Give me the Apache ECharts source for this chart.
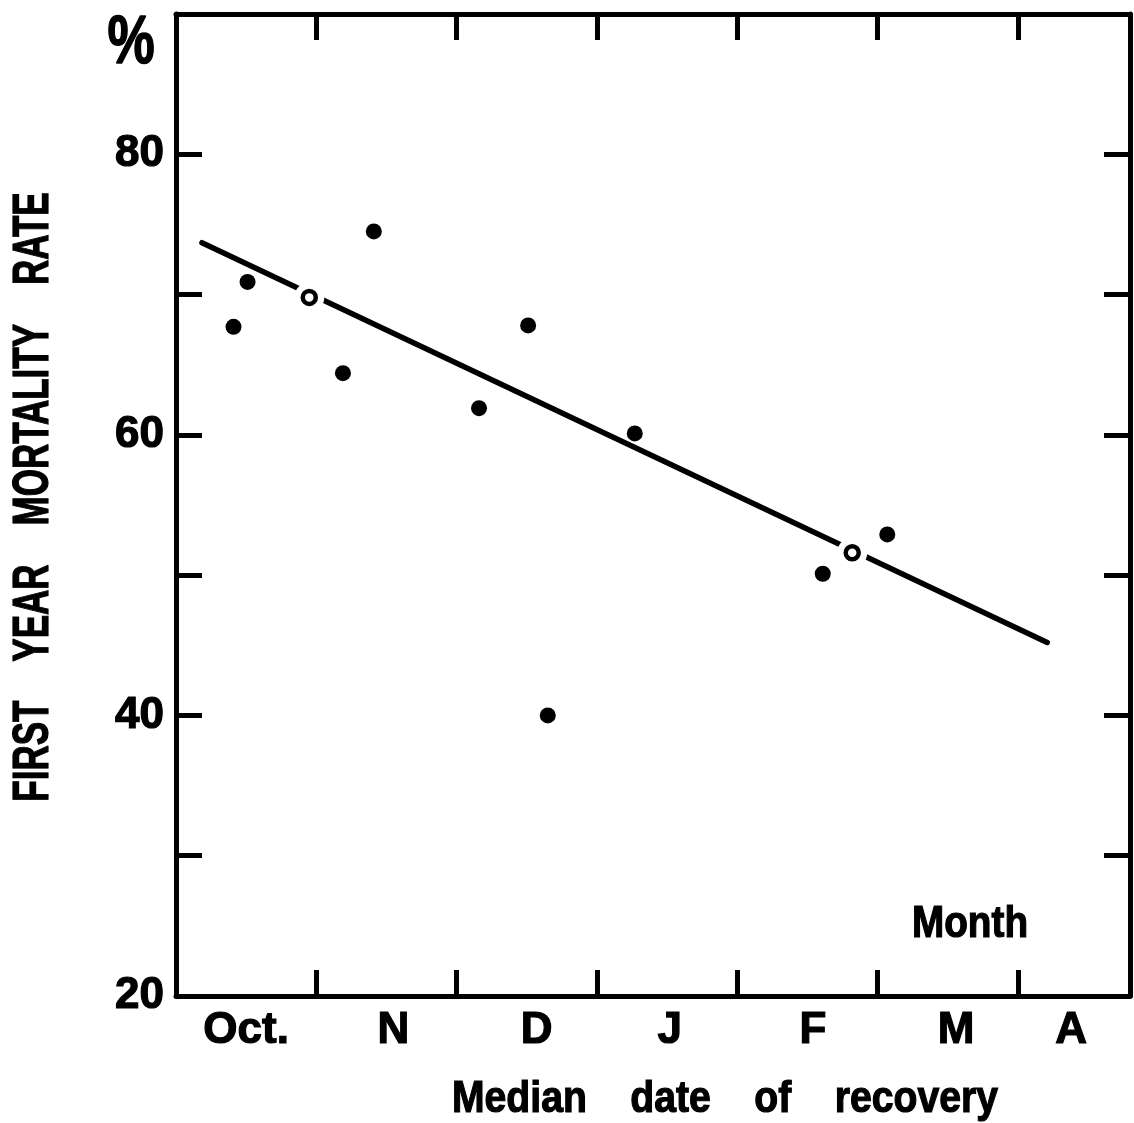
<!DOCTYPE html>
<html><head><meta charset="utf-8">
<script src="https://cdn.jsdelivr.net/npm/echarts@6/dist/echarts.min.js"></script>
<style>html,body{margin:0;padding:0;background:#fff}#c{width:1134px;height:1123px}</style>
</head><body><div id="c"></div>
<script>
// Month labels along the bottom (x in months from the start of October)
const monthLabels = ['Oct.', 'N', 'D', 'J', 'F', 'M', 'A'];
const monthLabelAt = [0.5, 1.55, 2.57, 3.52, 4.54, 5.56, 6.38];
// Y axis tick labels (%)
const yLabelValues = [20, 40, 60, 80];
// Observed points (filled)
const filledX = [0.41, 0.51, 1.19, 1.41, 2.16, 2.51, 2.65, 3.27, 4.61, 5.07];
const filledY = [67.7, 70.9, 64.4, 74.5, 61.9, 67.8, 40.0, 60.1, 50.1, 52.9];
// Open-circle points on the fitted line
const openX = [0.95, 4.82];
const openY = [69.8, 51.6];
// Fitted line end points
const fitX = [0.185, 6.21];
const fitY = [73.7, 45.2];

const FONT = 'Liberation Sans';
const zip = (a, b) => a.map((v, i) => [v, b[i]]);

const chart = echarts.init(document.getElementById('c'), null, {renderer: 'canvas'});
const axisLine = {show: true, onZero: false, lineStyle: {color: '#000', width: 5}};
const tick = {show: true, inside: true, length: 26, lineStyle: {color: '#000', width: 5}};
const heavy = {textBorderColor: '#000', textBorderWidth: 1.2};
const option = {
  backgroundColor: '#fff',
  animation: false,
  grid: {left: 176, right: 4, top: 14, bottom: 127},
  xAxis: [{
    type: 'value', min: 0, max: 6.8, interval: 1, position: 'bottom',
    axisLine: axisLine, splitLine: {show: false}, axisTick: tick,
    axisLabel: Object.assign({show: true, customValues: monthLabelAt, margin: 13,
      formatter: v => { const i = monthLabelAt.findIndex(m => Math.abs(m - v) < 1e-6); return i >= 0 ? monthLabels[i] : ''; },
      color: '#000', fontFamily: FONT, fontWeight: 'bold', fontSize: 44}, heavy)
  }, {
    type: 'value', min: 0, max: 6.8, interval: 1, position: 'top',
    axisLine: axisLine, splitLine: {show: false}, axisTick: tick,
    axisLabel: {show: false}
  }],
  yAxis: [{
    type: 'value', min: 20, max: 90, interval: 10, position: 'left',
    axisLine: axisLine, splitLine: {show: false}, axisTick: tick,
    axisLabel: Object.assign({show: true, margin: 12,
      formatter: v => yLabelValues.indexOf(v) >= 0 ? String(v) : '',
      color: '#000', fontFamily: FONT, fontWeight: 'bold', fontSize: 44}, heavy)
  }, {
    type: 'value', min: 20, max: 90, interval: 10, position: 'right',
    axisLine: axisLine, splitLine: {show: false}, axisTick: tick,
    axisLabel: {show: false}
  }],
  series: [{
    type: 'line', data: zip(fitX, fitY), showSymbol: false, symbol: 'none',
    lineStyle: {color: '#000', width: 5.5, cap: 'round'}, z: 2
  }, {
    // white halo breaking the fitted line around the open circles
    type: 'scatter', data: zip(openX, openY), symbolSize: 30,
    itemStyle: {color: '#fff', opacity: 1}, z: 3, silent: true
  }, {
    type: 'scatter', data: zip(openX, openY), symbolSize: 13,
    itemStyle: {color: '#fff', borderColor: '#000', borderWidth: 4.5, opacity: 1}, z: 4
  }, {
    type: 'scatter', data: zip(filledX, filledY), symbolSize: 16,
    itemStyle: {color: '#000', opacity: 1}, z: 5
  }],
  graphic: [{
    type: 'text', x: 131, y: 44, scaleX: 0.78,
    style: {text: '%', font: 'bold 68px "' + FONT + '"', fill: '#000', stroke: '#000', lineWidth: 1.5, textAlign: 'center', textVerticalAlign: 'middle'}
  }, {
    type: 'text', x: 34, y: 497, rotation: Math.PI / 2, scaleX: 0.7,
    style: {text: 'FIRST    YEAR    MORTALITY    RATE', font: 'bold 50px "' + FONT + '"', fill: '#000', stroke: '#000', lineWidth: 1.2, textAlign: 'center', textVerticalAlign: 'middle'}
  }, {
    type: 'text', x: 725, y: 1100, scaleX: 0.87,
    style: {text: 'Median    date    of    recovery', font: 'bold 45px "' + FONT + '"', fill: '#000', stroke: '#000', lineWidth: 1.2, textAlign: 'center', textVerticalAlign: 'middle'}
  }, {
    type: 'text', x: 970, y: 925, scaleX: 0.88,
    style: {text: 'Month', font: 'bold 44px "' + FONT + '"', fill: '#000', stroke: '#000', lineWidth: 1.2, textAlign: 'center', textVerticalAlign: 'middle'}
  }]
};
chart.setOption(option);
</script>
</body></html>
